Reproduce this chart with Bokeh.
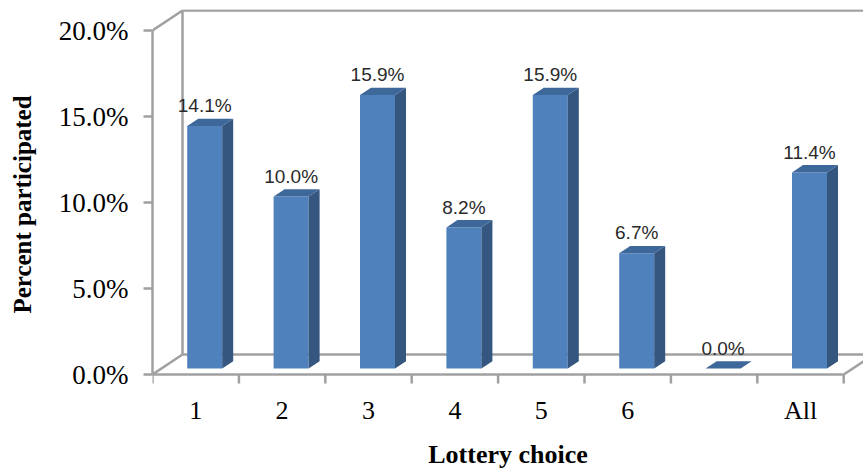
from bokeh.plotting import figure
from bokeh.models import ColumnDataSource, Range1d, FixedTicker, PrintfTickFormatter
from bokeh.core.properties import value
from bokeh.embed import file_html
from bokeh.resources import INLINE

# ---- data ----
categories = ["1", "2", "3", "4", "5", "6", "", "All"]
participation = [14.1, 10.0, 15.9, 8.2, 15.9, 6.7, 0.0, 11.4]
y_ticks = [0, 5, 10, 15, 20]

# ---- layout constants ----
W, H = 863, 472
AXIS_DROP = 25            # frame extends this many px below the 0% floor line
B_LEFT, B_RIGHT, B_TOP = 152, 0, 9
B_BOTTOM = 98 - AXIS_DROP
PX_PER_CAT = 86.4
PX_PER_PCT = 17.2
frame_w = W - B_LEFT - B_RIGHT
frame_h = H - B_TOP - B_BOTTOM
x_end = frame_w / PX_PER_CAT
y_start = -AXIS_DROP / PX_PER_PCT
y_end = y_start + frame_h / PX_PER_PCT

DX = 30 / PX_PER_CAT      # depth vector (data units)
DY = 20 / PX_PER_PCT
TICK = 9 / PX_PER_PCT
BAR_W = 35 / PX_PER_CAT
F0, F1 = 0.30, 0.667      # bar front/back depth fractions
LABEL_GAP = 13 / PX_PER_PCT

GRAY = "#A0A0A0"
LW = 2.5
FRONT, SIDE, TOP = "#4F81BD", "#35577F", "#3E679A"

n = len(categories)
ymax = y_ticks[-1]

p = figure(width=W, height=H, output_backend="svg", toolbar_location=None,
           x_range=Range1d(0, x_end), y_range=Range1d(y_start, y_end),
           min_border_left=B_LEFT, min_border_right=B_RIGHT,
           min_border_top=B_TOP, min_border_bottom=B_BOTTOM)
p.outline_line_color = None
p.xgrid.visible = False
p.ygrid.visible = False
p.background_fill_color = "white"
p.border_fill_color = "white"

# ---- walls / floor (front floor edge = category axis line with its ticks) ----
x0s = [0, DX, DX, 0, DX, n, 0]
y0s = [ymax, DY, ymax + DY, 0, DY, 0, 0]
x1s = [DX, DX, x_end, DX, x_end, n + DX, n]
y1s = [ymax + DY, ymax + DY, ymax + DY, DY, DY, DY, 0]
p.segment(x0=x0s, y0=y0s, x1=x1s, y1=y1s, line_color=GRAY, line_width=LW)
bounds = list(range(n + 1))
p.segment(x0=bounds, y0=[0] * len(bounds), x1=bounds, y1=[-TICK] * len(bounds),
          line_color=GRAY, line_width=LW)

# ---- 3D bars ----
front_xs, front_ys, side_xs, side_ys, top_xs, top_ys = [], [], [], [], [], []
lab_x, lab_y, lab_t = [], [], []
for i, v in enumerate(participation):
    c = i + 0.5
    lf = c - BAR_W / 2 + F0 * DX
    rf = c + BAR_W / 2 + F0 * DX
    bf = F0 * DY
    tf = v + F0 * DY
    lb = lf + (F1 - F0) * DX
    rb = rf + (F1 - F0) * DX
    bb = F1 * DY
    tb = v + F1 * DY
    front_xs.append([lf, rf, rf, lf]); front_ys.append([bf, bf, tf, tf])
    side_xs.append([rf, rb, rb, rf]); side_ys.append([bf, bb, tb, tf])
    top_xs.append([lf, rf, rb, lb]); top_ys.append([tf, tf, tb, tb])
    lab_x.append((lf + rf) / 2)
    lab_y.append(tb + LABEL_GAP)
    lab_t.append(f"{v:.1f}%")

p.patches(xs=front_xs, ys=front_ys, fill_color=FRONT, line_color=None)
p.patches(xs=side_xs, ys=side_ys, fill_color=SIDE, line_color=None)
p.patches(xs=top_xs, ys=top_ys, fill_color=TOP, line_color=None)

src = ColumnDataSource(dict(x=lab_x, y=lab_y, t=lab_t))
p.text(x="x", y="y", text="t", source=src, text_align="center",
       text_baseline="alphabetic",
       text_font=value("Liberation Sans"), text_font_size="19px",
       text_color="#2A2A2A")

# ---- axes ----
xa = p.xaxis[0]
xa.ticker = FixedTicker(ticks=[i + 0.5 for i in range(n)])
xa.major_label_overrides = {i + 0.5: c for i, c in enumerate(categories)}
xa.axis_line_color = None
xa.major_tick_in = 0
xa.major_tick_out = 0
xa.major_tick_line_color = None
xa.minor_tick_line_color = None
xa.minor_tick_in = 0
xa.minor_tick_out = 0
xa.major_label_standoff = 21 - AXIS_DROP
xa.major_label_text_font = "Liberation Serif"
xa.major_label_text_font_size = "26px"
xa.major_label_text_color = "black"
xa.axis_label = "Lottery choice"
xa.axis_label_text_font = "Liberation Serif"
xa.axis_label_text_font_style = "bold"
xa.axis_label_text_font_size = "26px"
xa.axis_label_text_color = "black"
xa.axis_label_standoff = 12

ya = p.yaxis[0]
ya.ticker = FixedTicker(ticks=y_ticks)
ya.formatter = PrintfTickFormatter(format="%.1f%%")
ya.bounds = (0, ymax)
ya.axis_line_color = GRAY
ya.axis_line_width = LW
ya.major_tick_in = 0
ya.major_tick_out = 9
ya.major_tick_line_color = GRAY
ya.major_tick_line_width = LW
ya.minor_tick_line_color = None
ya.major_label_standoff = 15
ya.major_label_text_font = "Liberation Serif"
ya.major_label_text_font_size = "27px"
ya.major_label_text_color = "black"
ya.axis_label = "Percent participated"
ya.axis_label_text_font = "Liberation Serif"
ya.axis_label_text_font_style = "bold"
ya.axis_label_text_font_size = "25px"
ya.axis_label_text_color = "black"
ya.axis_label_standoff = 20

open("out.html", "w").write(file_html(p, INLINE))
